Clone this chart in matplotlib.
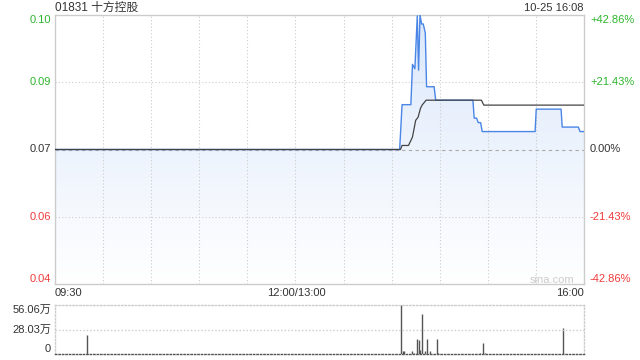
import matplotlib
matplotlib.use("Agg")
import matplotlib.pyplot as plt
import numpy as np
from matplotlib.transforms import blended_transform_factory
from matplotlib.patches import Polygon

plt.rcParams['font.family'] = ['Liberation Sans', 'Noto Sans CJK SC', 'DejaVu Sans']

# data: minutes since 09:30 on a trading clock (lunch break removed, 330 min total)
PRE_CLOSE = 0.07
price_t = [0, 215, 216.5, 222, 223, 224.5, 226, 226.8, 227.7, 228.7, 229.7, 231, 231.8,
           236.5, 237.5, 260.7, 261.5, 263, 264, 265.5, 266.5, 299.5, 300.2, 315.7,
           316.4, 326.5, 327.5, 330]
price_v = [0.070, 0.070, 0.080, 0.080, 0.089, 0.088, 0.0998, 0.0877, 0.100, 0.098,
           0.098, 0.096, 0.084, 0.084, 0.081, 0.081, 0.077, 0.077, 0.076, 0.076,
           0.074, 0.074, 0.079, 0.079, 0.075, 0.075, 0.074, 0.074]
avg_t = [0, 215.5, 216.5, 220.5, 222, 223, 225, 226.5, 228, 229, 231.5, 266, 267.5, 330]
avg_v = [0.070, 0.070, 0.0709, 0.0709, 0.072, 0.0728, 0.0765, 0.0772, 0.0792, 0.0799,
         0.081, 0.081, 0.0799, 0.0799]
vol_t = [20, 216, 217, 218, 223, 224, 226, 227, 228, 229, 231, 232, 234, 238, 239,
         265, 267, 268, 317]
vol_v = [221000, 560600, 30000, 30000, 35000, 10000, 175000, 164000, 50000, 460000,
         30000, 175000, 30000, 175000, 15000, 10000, 130000, 10000, 300000]

y_ticks = [0.10, 0.085, 0.07, 0.055, 0.04]
y_labels = ['0.10', '0.09', '0.07', '0.06', '0.04']
pct_labels = ['+42.86%', '+21.43%', '0.00%', '-21.43%', '-42.86%']
vol_ticks = [560600, 280300, 0]
vol_labels = ['56.06万', '28.03万', '0']

GREEN = '#2db52d'
RED = '#f03a3a'
DARK = '#333333'
BLUE = '#4a86e8'

fig = plt.figure(figsize=(6.4, 3.6), dpi=100)
ax = fig.add_axes([55 / 640, 1 - 284 / 360, 529 / 640, 269 / 360])
axv = fig.add_axes([55 / 640, 1 - 354 / 360, 529 / 640, 49 / 360])

ax.set_xlim(0, 330)
ax.set_ylim(0.04, 0.10)

# gradient fill under price line
poly = Polygon(list(zip(price_t, price_v)) + [(330, 0.04), (0, 0.04)], closed=True,
               facecolor='none', edgecolor='none')
ax.add_patch(poly)
grad = np.linspace(0, 1, 256).reshape(-1, 1)
top_c = np.array([0.86, 0.91, 0.985])
bot_c = np.array([1.0, 1.0, 1.0])
img = top_c * (1 - grad[..., None]) + bot_c * grad[..., None]
img = img.reshape(256, 1, 3)
im = ax.imshow(img, extent=[0, 330, 0.04, 0.10], aspect='auto', origin='upper', zorder=1)
im.set_clip_path(poly)

# grid
for k in range(1, 11):
    ax.axvline(k * 30, color='#cccccc', lw=0.8, ls=(0, (1, 2)), zorder=2)
for yv in [0.085, 0.055]:
    ax.axhline(yv, color='#cccccc', lw=0.8, ls=(0, (1, 2)), zorder=2)
ax.axhline(PRE_CLOSE, color='#aaaaaa', lw=0.8, ls=(0, (3, 3)), zorder=2)

ax.plot(price_t, price_v, color=BLUE, lw=1.0, zorder=4)
ax.plot(avg_t, avg_v, color='#444444', lw=0.9, zorder=5)

ax.set_xticks([])
ax.set_yticks([])
for s in ax.spines.values():
    s.set_color('#cccccc')
    s.set_linewidth(1.0)

tr = blended_transform_factory(fig.transFigure, ax.transData)
for i, (yv, lab, pl) in enumerate(zip(y_ticks, y_labels, pct_labels)):
    c = GREEN if yv > PRE_CLOSE else (RED if yv < PRE_CLOSE else DARK)
    va = 'top' if i == 0 else ('bottom' if i == len(y_ticks) - 1 else 'center')
    fig.text(51 / 640, yv, lab, transform=tr, ha='right', va=va, color=c, fontsize=8)
    fig.text(590 / 640, yv, pl, transform=tr, ha='left', va=va, color=c, fontsize=8)

fig.text(55 / 640, 1 - 8 / 360, '01831 十方控股', ha='left', va='center', color=DARK, fontsize=8.5)
fig.text(584 / 640, 1 - 8 / 360, '10-25 16:08', ha='right', va='center', color=DARK, fontsize=8)
fig.text(55 / 640, 1 - 293 / 360, '09:30', ha='left', va='center', color=DARK, fontsize=8)
fig.text(296 / 640, 1 - 293 / 360, '12:00/13:00', ha='center', va='center', color=DARK, fontsize=8)
fig.text(584 / 640, 1 - 293 / 360, '16:00', ha='right', va='center', color=DARK, fontsize=8)
fig.text(552 / 640, 1 - 280 / 360, 'sina.com', ha='center', va='center', color='#cccccc', fontsize=8)

# volume panel
axv.set_xlim(0, 330)
axv.set_ylim(0, 560600)
axv.vlines(vol_t, 0, vol_v, color='#555555', lw=1.0)
axv.axhline(280300, color='#cccccc', lw=1.0, ls=(0, (1, 1.5)))
axv.set_xticks([])
axv.set_yticks([])
for name, s in axv.spines.items():
    s.set_linestyle((0, (1, 1.5)))
    s.set_color('#cccccc')
    s.set_linewidth(1.0)
axv.spines['bottom'].set_color('#555555')

trv = blended_transform_factory(fig.transFigure, axv.transData)
for i, (yv, lab) in enumerate(zip(vol_ticks, vol_labels)):
    va = 'top' if i == 0 else ('bottom' if i == len(vol_ticks) - 1 else 'center')
    fig.text(51 / 640, yv, lab, transform=trv, ha='right', va=va, color=DARK, fontsize=8)

fig.savefig('out.png', dpi=100)
